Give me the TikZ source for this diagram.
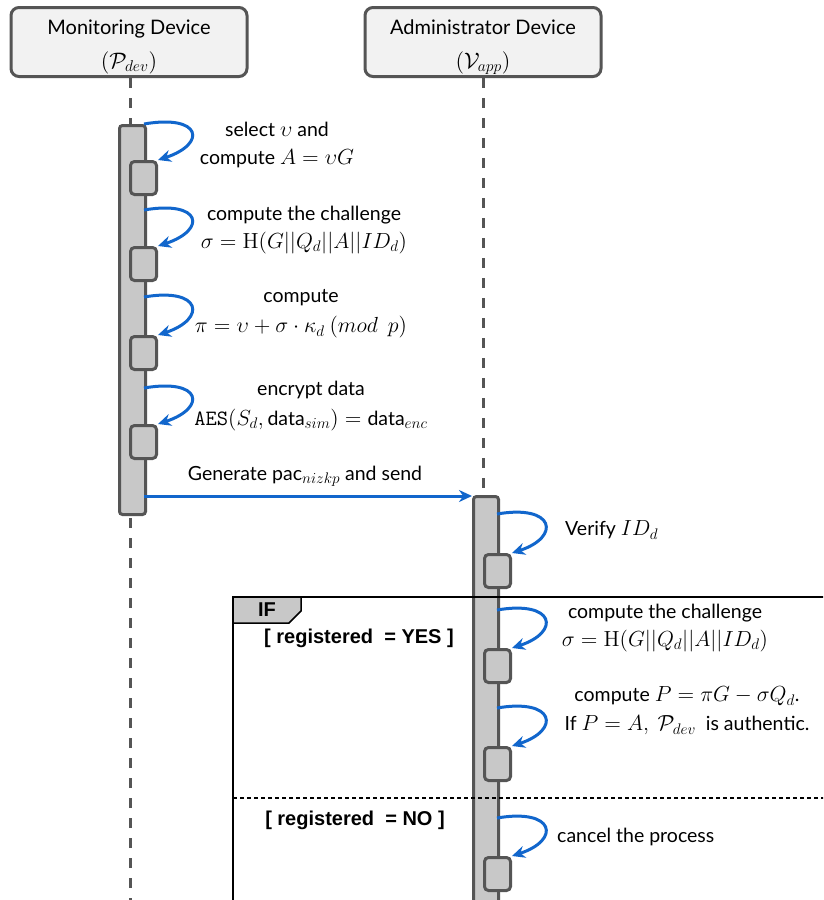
\documentclass[tikz,border=0pt]{standalone}
\usepackage{amsmath}
\usepackage[no-math]{fontspec}
\setmainfont{Lato}
\newfontfamily\lblfont{Liberation Sans}
\DeclareFontShape{OML}{cmm}{m}{it}{<->s*[1.12]cmmi12}{}
\DeclareFontShape{OT1}{cmr}{m}{n}{<->s*[1.12]cmr12}{}
\DeclareFontShape{OMS}{cmsy}{m}{n}{<->s*[1.12]cmsy10}{}
\DeclareFontShape{OMX}{cmex}{m}{n}{<->s*[1.12]cmex10}{}
\DeclareFontShape{OT1}{cmtt}{m}{n}{<->s*[1.12]cmtt12}{}
\usetikzlibrary{arrows.meta}
\definecolor{edgegray}{HTML}{555555}
\definecolor{barfill}{HTML}{C8C8C8}
\definecolor{hdrfill}{HTML}{F2F2F2}
\definecolor{arrblue}{HTML}{1166CC}
\tikzset{
  hdr/.style={draw=edgegray, fill=hdrfill, line width=3pt, rounded corners=8pt, minimum width=236pt, minimum height=69pt},
  hdrtext/.style={align=center, inner sep=0pt, font=\fontsize{20}{34}\selectfont},
  lifeline/.style={draw=edgegray, line width=3pt, dash pattern=on 10pt off 10pt},
  actbar/.style={draw=edgegray, fill=barfill, line width=3pt, rounded corners=3pt, minimum width=26pt, anchor=north west, inner sep=0pt},
  smallbox/.style={draw=edgegray, fill=barfill, line width=3pt, rounded corners=4pt, minimum width=26pt, minimum height=33pt, anchor=north west, inner sep=0pt},
  selfloop/.style={draw=arrblue, line width=3pt, -{Stealth[length=13pt,width=12pt]}},
  msg/.style={draw=arrblue, line width=3pt, -{Stealth[length=13pt,width=12pt]}},
  lbl/.style={align=center, font=\fontsize{19.5}{28}\selectfont, inner sep=0pt},
  condlbl/.style={font=\lblfont\bfseries\fontsize{20}{22}\selectfont, inner sep=0pt},
  frameline/.style={draw=black, line width=1.5pt},
}
\begin{document}
\begin{tikzpicture}[x=1pt,y=-1pt]
\useasboundingbox (0,0) rectangle (823,900);
\clip (0,0) rectangle (823,900);
\fill[white] (0,0) rectangle (823,900);

% headers
\node[hdr] (mon) at (129,42) {};
\node[hdrtext] (montext) at (129,47) {Monitoring Device\\$(\mathcal{P}_{dev})$};
\node[hdr] (adm) at (483,42) {};
\node[hdrtext] (admtext) at (483,47) {Administrator Device\\$(\mathcal{V}_{app})$};

% lifelines
\coordinate (monend) at (130,905);
\coordinate (admend) at (483,905);
\draw[lifeline] (mon.south -| monend) -- (monend);
\draw[lifeline] (adm.south -| admend) -- (admend);

% activation bars
\node[actbar, minimum height=389pt] (bar1) at (118,124) {};
\node[actbar, minimum height=430pt, minimum width=25pt] (bar2) at (472,495) {};

% small boxes on bar 1
\node[smallbox] (s1) at (129,160) {};
\node[smallbox] (s2) at (129,246) {};
\node[smallbox] (s3) at (129,335) {};
\node[smallbox] (s4) at (129,424) {};
% small boxes on bar 2
\node[smallbox] (t1) at (483,553) {};
\node[smallbox] (t2) at (483,648) {};
\node[smallbox] (t3) at (483,746) {};
\node[smallbox] (t4) at (483,856) {};

% self loops bar 1
\coordinate (l1) at (144,124);
\coordinate (l2) at (144,210);
\coordinate (l3) at (144,297);
\coordinate (l4) at (144,388);
\draw[selfloop] (l1) .. controls (202,114) and (207,144) .. (s1.north east);
\draw[selfloop] (l2) .. controls (202,200) and (207,230) .. (s2.north east);
\draw[selfloop] (l3) .. controls (202,287) and (207,319) .. (s3.north east);
\draw[selfloop] (l4) .. controls (202,378) and (207,408) .. (s4.north east);

% self loops bar 2
\coordinate (m1) at (497,514);
\coordinate (m2) at (497,610);
\coordinate (m3) at (497,708);
\coordinate (m4) at (497,818);
\draw[selfloop] (m1) .. controls (555,504) and (561,537) .. (t1.north east);
\draw[selfloop] (m2) .. controls (555,600) and (561,632) .. (t2.north east);
\draw[selfloop] (m3) .. controls (555,698) and (561,730) .. (t3.north east);
\draw[selfloop] (m4) .. controls (555,808) and (561,840) .. (t4.north east);

% message
\coordinate (msgstart) at (144,496);
\draw[msg] (msgstart) -- (msgstart -| bar2.west);
\node[lbl] (msglbl) at (305,476) {Generate pac$_{nizkp}$ and send};

% labels bar 1
\node[lbl] (a1) at (277,145) {select $\upsilon$ and\\compute $A=\upsilon G$};
\node[lbl] (a2) at (304,230) {compute the challenge\\$\sigma=\mathrm{H}(G||Q_d||A||ID_d)$};
\node[lbl, font=\fontsize{19.5}{30}\selectfont] (a3) at (301,314) {compute\\$\pi=\upsilon+\sigma\cdot\kappa_d\ (mod\ \ p)$};
\node[lbl, font=\fontsize{19.5}{30}\selectfont] (a4) at (311,406) {encrypt data\\$\mathtt{AES}(S_d,\mbox{data}_{sim})=\mbox{data}_{enc}$};

% labels bar 2
\node[lbl, anchor=west] (b1) at (565,530) {Verify $ID_d$};
\node[lbl] (b2) at (665,628) {compute the challenge\\$\sigma=\mathrm{H}(G||Q_d||A||ID_d)$};
\node[lbl, font=\fontsize{19.5}{29}\selectfont] (b3) at (687,711) {compute $P=\pi G-\sigma Q_d$.\\If $P=A,\ \mathcal{P}_{dev}$\ \ is authentic.};
\node[lbl, anchor=west] (b4) at (557,837) {cancel the process};

% IF frame
\draw[frameline] (233,905) -- (233,597) -- (830,597);
\draw[frameline, fill=barfill] (233,597) -- (301,597) -- (301,611) -- (289,623) -- (233,623) -- cycle;
\node[condlbl] (iflbl) at (267,610) {IF};
\draw[frameline, line width=1.2pt, dash pattern=on 4pt off 3pt] (233,798) -- (830,798);
\node[condlbl] (yes) at (359,638) {[ registered\ \ = YES ]};
\node[condlbl] (no) at (355,820) {[ registered\ \ = NO ]};
\end{tikzpicture}
\end{document}
